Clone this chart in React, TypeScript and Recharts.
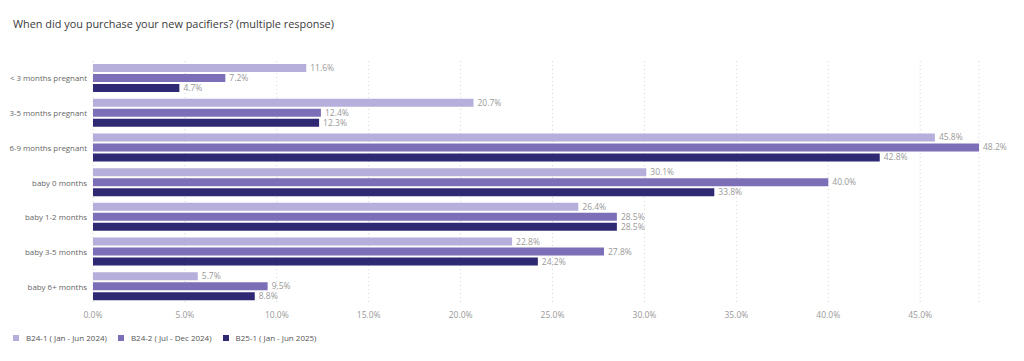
import React from "react";
import {
  BarChart,
  Bar,
  XAxis,
  YAxis,
  CartesianGrid,
  LabelList,
} from "recharts";

const categories = [
  "< 3 months pregnant",
  "3-5 months pregnant",
  "6-9 months pregnant",
  "baby 0 months",
  "baby 1-2 months",
  "baby 3-5 months",
  "baby 6+ months",
];

const b241 = [11.6, 20.7, 45.8, 30.1, 26.4, 22.8, 5.7];
const b242 = [7.2, 12.4, 48.2, 40.0, 28.5, 27.8, 9.5];
const b251 = [4.7, 12.3, 42.8, 33.8, 28.5, 24.2, 8.8];

const xTicks = [0, 5, 10, 15, 20, 25, 30, 35, 40, 45];

const series = [
  { key: "b241", name: "B24-1 ( Jan - Jun 2024)", color: "#b6aedb" },
  { key: "b242", name: "B24-2 ( Jul - Dec 2024)", color: "#7d6fb7" },
  { key: "b251", name: "B25-1 ( Jan - Jun 2025)", color: "#2f2872" },
];

const data = categories.map((name, i) => ({
  name,
  b241: b241[i],
  b242: b242[i],
  b251: b251[i],
}));

const font = "'Open Sans', sans-serif";
const fmt = (v: any) => `${Number(v).toFixed(1)}%`;

const CategoryTick = (props: any) => {
  const { y, payload } = props;
  return (
    <text
      x={87}
      y={y}
      dy={3}
      textAnchor="end"
      fontSize={7.9}
      fill="#666"
      fontFamily={font}
    >
      {payload.value}
    </text>
  );
};

export default function App() {
  return (
    <div
      style={{
        position: "absolute",
        left: 0,
        top: 0,
        width: 1024,
        height: 361,
        background: "#fff",
        fontFamily: font,
      }}
    >
      <div
        style={{
          position: "absolute",
          left: 13,
          top: 16,
          fontSize: 10.9,
          color: "#3a3a3a",
        }}
      >
        When did you purchase your new pacifiers? (multiple response)
      </div>
      <div style={{ position: "absolute", left: 0, top: 0 }}>
        <BarChart
          width={1024}
          height={324}
          data={data}
          layout="vertical"
          margin={{ top: 61, right: 45, left: 0, bottom: 0 }}
          barSize={8}
          barGap={2}
        >
          <CartesianGrid
            horizontal={false}
            strokeDasharray="1 3"
            stroke="#d4d4d4"
          />
          <XAxis
            type="number"
            domain={[0, 48.2]}
            ticks={xTicks}
            tickFormatter={fmt}
            axisLine={false}
            tickLine={false}
            height={20}
            tick={{ fontSize: 8.5, fill: "#999", fontFamily: font }}
          />
          <YAxis
            type="category"
            dataKey="name"
            width={93}
            axisLine={false}
            tickLine={false}
            tick={<CategoryTick />}
          />
          {series.map((s) => (
            <Bar
              key={s.key}
              dataKey={s.key}
              name={s.name}
              fill={s.color}
              isAnimationActive={false}
            >
              <LabelList
                dataKey={s.key}
                position="right"
                offset={4}
                formatter={fmt}
                style={{ fontSize: 8.5, fill: "#999", fontFamily: font }}
              />
            </Bar>
          ))}
        </BarChart>
      </div>
      <div
        style={{
          position: "absolute",
          left: 13,
          top: 332,
          display: "flex",
          gap: 11,
          fontSize: 8,
          color: "#555",
        }}
      >
        {series.map((s) => (
          <div key={s.key} style={{ display: "flex", alignItems: "center" }}>
            <span
              style={{
                display: "inline-block",
                width: 6,
                height: 6,
                background: s.color,
                marginRight: 7,
              }}
            />
            {s.name}
          </div>
        ))}
      </div>
    </div>
  );
}
